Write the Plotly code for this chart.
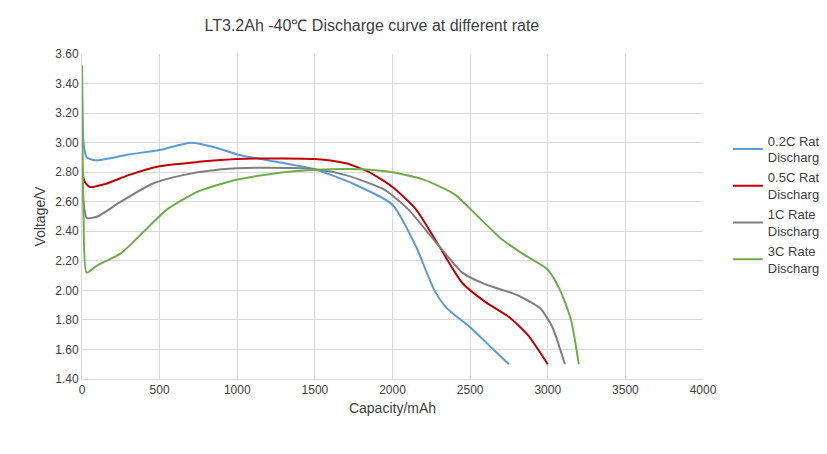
import plotly.graph_objects as go

x_02 = [0, 10, 30, 100, 300, 500, 700, 850, 1000, 1250, 1500, 1750, 2000, 2150, 2270, 2350, 2500, 2650, 2750]
y_02 = [3.52, 3.0, 2.9, 2.88, 2.92, 2.95, 3.0, 2.97, 2.92, 2.87, 2.82, 2.72, 2.58, 2.3, 2.0, 1.88, 1.75, 1.6, 1.5]

x_05 = [0, 15, 50, 150, 300, 500, 750, 1000, 1500, 1700, 1850, 2000, 2150, 2300, 2450, 2600, 2750, 2870, 3000]
y_05 = [2.85, 2.74, 2.70, 2.72, 2.78, 2.84, 2.87, 2.89, 2.89, 2.86, 2.80, 2.70, 2.55, 2.3, 2.05, 1.92, 1.82, 1.7, 1.5]

x_1c = [0, 10, 30, 100, 250, 450, 650, 900, 1200, 1500, 1700, 1950, 2100, 2300, 2450, 2600, 2800, 2950, 3030, 3110]
y_1c = [2.85, 2.6, 2.49, 2.50, 2.6, 2.72, 2.78, 2.82, 2.83, 2.82, 2.78, 2.68, 2.55, 2.3, 2.12, 2.04, 1.97, 1.88, 1.75, 1.5]

x_3c = [0, 10, 30, 100, 250, 400, 550, 750, 1000, 1300, 1600, 1800, 2000, 2200, 2400, 2550, 2700, 2850, 3000, 3080, 3150, 3200]
y_3c = [3.52, 2.5, 2.12, 2.17, 2.25, 2.4, 2.55, 2.67, 2.75, 2.8, 2.82, 2.82, 2.8, 2.75, 2.65, 2.5, 2.35, 2.24, 2.14, 2.0, 1.8, 1.5]

series = [
    ("0.2C Rate<br>Discharge", x_02, y_02, "#5B9BD5"),
    ("0.5C Rate<br>Discharge", x_05, y_05, "#C00000"),
    ("1C Rate<br>Discharge", x_1c, y_1c, "#7F7F7F"),
    ("3C Rate<br>Discharge", x_3c, y_3c, "#70AD47"),
]

fig = go.Figure()
for name, xs, ys, color in series:
    fig.add_trace(go.Scatter(x=xs, y=ys, mode="lines", name=name,
                             line=dict(color=color, width=2, shape="spline", smoothing=0.6)))

fig.update_layout(
    width=827, height=454,
    paper_bgcolor="white", plot_bgcolor="white",
    font=dict(family="Liberation Sans, Arial", size=12, color="#404040"),
    title=dict(text="LT3.2Ah -40℃ Discharge curve at different rate", x=0.44, y=0.975,
               xanchor="center", yanchor="top", font=dict(size=16, color="#404040")),
    margin=dict(l=74, r=132, t=46, b=83, autoexpand=False),
    legend=dict(x=1.04, y=0.78, xanchor="left", yanchor="top", tracegroupgap=16,
                font=dict(size=13)),
    xaxis=dict(title=dict(text="Capacity/mAh", standoff=6), range=[0, 4000], dtick=500,
               showgrid=True, gridcolor="#D9D9D9", zeroline=False,
               showline=True, linecolor="#D9D9D9", ticks=""),
    yaxis=dict(title=dict(text="Voltage/V", standoff=6), range=[1.4, 3.6], dtick=0.2,
               tickformat=".2f", showgrid=True, gridcolor="#D9D9D9", zeroline=False,
               showline=True, linecolor="#D9D9D9", ticks=""),
)

fig.write_html("out.html")
